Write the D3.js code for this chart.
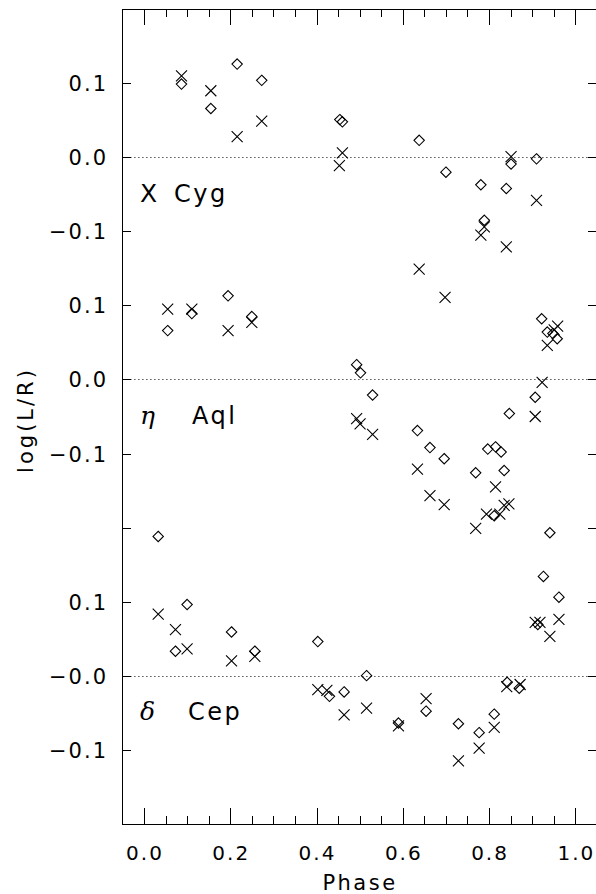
<!DOCTYPE html>
<html>
<head>
<meta charset="utf-8">
<script src="https://cdn.jsdelivr.net/npm/d3@7"></script>
<style>
html,body{margin:0;padding:0;background:#fff;}
svg{display:block;}
text{font-family:"DejaVu Sans",sans-serif;fill:#000;}
</style>
</head>
<body>
<div id="chart"></div>
<script>
// ---- data (phase, log(L/R)) ----
const xcygCrossPhase = [0.087,0.155,0.216,0.273,0.460,0.453,0.851,0.910,0.789,0.781,0.840,0.638,0.698];
const xcygCrossValue = [0.110,0.090,0.028,0.049,0.006,-0.011,0.001,-0.058,-0.094,-0.105,-0.121,-0.151,-0.189];
const xcygDiamPhase  = [0.087,0.155,0.216,0.273,0.454,0.460,0.638,0.700,0.781,0.840,0.851,0.910,0.789];
const xcygDiamValue  = [0.099,0.066,0.126,0.104,0.051,0.048,0.023,-0.020,-0.037,-0.042,-0.009,-0.002,-0.085];

const etaCrossPhase = [0.055,0.111,0.195,0.250,0.493,0.501,0.530,0.634,0.663,0.696,0.769,0.815,0.794,0.825,0.835,0.846,0.907,0.923,0.935,0.951,0.959];
const etaCrossValue = [0.095,0.095,0.066,0.077,-0.053,-0.060,-0.074,-0.121,-0.157,-0.169,-0.201,-0.145,-0.182,-0.182,-0.170,-0.168,-0.050,-0.004,0.046,0.067,0.072];
const etaDiamPhase  = [0.055,0.111,0.195,0.250,0.493,0.502,0.530,0.634,0.663,0.696,0.769,0.797,0.815,0.828,0.835,0.812,0.847,0.907,0.922,0.935,0.948,0.958];
const etaDiamValue  = [0.066,0.089,0.113,0.085,0.020,0.009,-0.021,-0.069,-0.092,-0.107,-0.126,-0.094,-0.091,-0.098,-0.123,-0.184,-0.046,-0.024,0.082,0.064,0.062,0.055];

const delCrossPhase = [0.033,0.073,0.100,0.203,0.257,0.403,0.424,0.464,0.516,0.590,0.654,0.729,0.777,0.812,0.841,0.872,0.907,0.918,0.941,0.962];
const delCrossValue = [0.083,0.062,0.036,0.020,0.026,-0.019,-0.020,-0.053,-0.044,-0.068,-0.031,-0.115,-0.098,-0.070,-0.015,-0.012,0.072,0.072,0.053,0.076];
const delDiamPhase  = [0.033,0.100,0.073,0.203,0.257,0.403,0.430,0.464,0.516,0.590,0.654,0.729,0.777,0.812,0.842,0.870,0.913,0.926,0.941,0.962];
const delDiamValue  = [0.188,0.096,0.033,0.059,0.033,0.046,-0.028,-0.022,0.000,-0.064,-0.048,-0.065,-0.077,-0.052,-0.009,-0.017,0.069,0.134,0.193,0.106];

// vertical offsets of each star on the common axis
const starNames   = ["Cyg","Aql","Cep"];
const starSymbols = ["X","\u03B7","\u03B4"];
const starOffsets = [0.9,0.6,0.2];

// y tick positions on the common axis and their labels
const yTickValues = [0.1,0.2,0.3,0.4,0.5,0.6,0.7,0.8,0.9,1.0];
const yTickLabels = ["\u22120.1","\u22120.0","0.1","","\u22120.1","0.0","0.1","\u22120.1","0.0","0.1"];
const xTickValues = [0.0,0.2,0.4,0.6,0.8,1.0];
const xTickLabels = ["0.0","0.2","0.4","0.6","0.8","1.0"];

// ---- layout ----
const W = 596, H = 894;
const L = 122.4, R = 596.9, T = 9.3, B = 823.7;
const svg = d3.select("#chart").append("svg").attr("width",W).attr("height",H);

const x = d3.scaleLinear().domain([-0.05,1.05]).range([L,R]);
const y = d3.scaleLinear().domain([0,1.1]).range([B,T]);

// zero lines
starOffsets.forEach(o=>{
  svg.append("line").attr("x1",L).attr("x2",R)
    .attr("y1",Math.round(y(o))+0.5).attr("y2",Math.round(y(o))+0.5)
    .attr("stroke","#000").attr("stroke-width",1).attr("stroke-dasharray","1,3");
});

// frame
svg.append("rect").attr("x",Math.round(L)+0.5).attr("y",Math.round(T)+0.5)
  .attr("width",Math.round(R)-Math.round(L)).attr("height",Math.round(B)-Math.round(T))
  .attr("fill","none").attr("stroke","#000").attr("stroke-width",1);

// x ticks (bottom and top)
const minor = d3.range(0,21).map(i=>i*0.05);
const gx = svg.append("g");
minor.forEach(v=>{
  const isMajor = Math.abs(v/0.2 - Math.round(v/0.2))<1e-6;
  const len = isMajor?16:8;
  const px = Math.round(x(v))+0.5;
  gx.append("line").attr("x1",px).attr("x2",px).attr("y1",Math.round(B)).attr("y2",Math.round(B)-len).attr("stroke","#000");
  gx.append("line").attr("x1",px).attr("x2",px).attr("y1",Math.round(T)).attr("y2",Math.round(T)+len).attr("stroke","#000");
});
xTickValues.forEach((v,i)=>{
  svg.append("text").attr("x",x(v)+1).attr("y",860).attr("text-anchor","middle")
    .style("font-size","20px").style("letter-spacing","2px").text(xTickLabels[i]);
});

// y ticks (left and right)
yTickValues.forEach((v,i)=>{
  const py = Math.round(y(v))+0.5;
  svg.append("line").attr("x1",Math.round(L)).attr("x2",Math.round(L)+9).attr("y1",py).attr("y2",py).attr("stroke","#000");
  svg.append("line").attr("x1",Math.round(R)).attr("x2",Math.round(R)-9).attr("y1",py).attr("y2",py).attr("stroke","#000");
  svg.append("text").attr("x",108).attr("y",y(v)+8).attr("text-anchor","end")
    .style("font-size","21px").style("letter-spacing","2px").text(yTickLabels[i]);
});

// axis titles
svg.append("text").attr("x",360).attr("y",890).attr("text-anchor","middle")
  .style("font-size","21px").style("letter-spacing","2.5px").text("Phase");
svg.append("text").attr("transform","translate(33,420) rotate(-90)").attr("text-anchor","middle")
  .style("font-size","21px").style("letter-spacing","3px").text("log(L/R)");

// star labels
const labelBase = [202,424,720];
const labelNameX = [174,192,188];
starOffsets.forEach((o,i)=>{
  const sym = svg.append("text").attr("x",140).attr("y",labelBase[i]).text(starSymbols[i]);
  if(i===0){ sym.style("font-size","25px"); }
  else { sym.style("font-family","'DejaVu Serif',serif").style("font-style","italic").style("font-size","25px"); }
  svg.append("text").attr("x",labelNameX[i]).attr("y",labelBase[i])
    .style("font-size","24px").style("letter-spacing","2.5px").text(starNames[i]);
});

// markers
const series = [
  [xcygCrossPhase,xcygCrossValue,xcygDiamPhase,xcygDiamValue],
  [etaCrossPhase,etaCrossValue,etaDiamPhase,etaDiamValue],
  [delCrossPhase,delCrossValue,delDiamPhase,delDiamValue]
];
const cs = 5.5, ds = 5.2;
series.forEach((s,i)=>{
  const off = starOffsets[i];
  const g = svg.append("g").attr("stroke","#000").attr("stroke-width",1.1).attr("fill","none");
  s[0].forEach((p,j)=>{
    const cx = x(p), cy = y(off + s[1][j]);
    g.append("path").attr("d",`M${cx-cs},${cy-cs}L${cx+cs},${cy+cs}M${cx-cs},${cy+cs}L${cx+cs},${cy-cs}`);
  });
  s[2].forEach((p,j)=>{
    const cx = x(p), cy = y(off + s[3][j]);
    g.append("path").attr("d",`M${cx},${cy-ds}L${cx+ds},${cy}L${cx},${cy+ds}L${cx-ds},${cy}Z`);
  });
});
</script>
</body>
</html>
